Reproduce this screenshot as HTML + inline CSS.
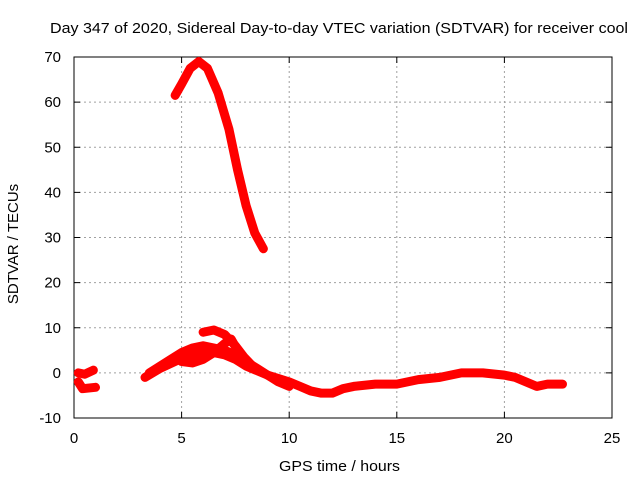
<!DOCTYPE html>
<html><head><meta charset="utf-8"><style>
body{margin:0;background:#fff;font-family:"Liberation Sans",sans-serif}
svg text{font-family:"Liberation Sans",sans-serif;font-size:14px;fill:#000}
</style></head><body>
<svg id="chart" width="640" height="480">
<text x="50" y="33" textLength="578" lengthAdjust="spacingAndGlyphs" style="font-size:15px">Day 347 of 2020, Sidereal Day-to-day VTEC variation (SDTVAR) for receiver cool</text>
<text x="279" y="471" textLength="121" lengthAdjust="spacingAndGlyphs" style="font-size:15px">GPS time / hours</text>
<text x="18" y="244" text-anchor="middle" transform="rotate(-90 18 244)" style="font-size:15px">SDTVAR / TECUs</text>
<g id="grid"></g><g id="axes"></g><g id="series"></g>
</svg>
<script>
const xTicks=[0,5,10,15,20,25];
const yTicks=[-10,0,10,20,30,40,50,60,70];
const seriesPeak=[[4.7,61.5],[5.0,64],[5.4,67.5],[5.8,69],[6.2,67.5],[6.7,62],[7.2,54],[7.6,45],[8.0,37],[8.4,31],[8.8,27.5]];
const seriesEarlyA=[[0.2,0],[0.5,-0.3],[0.9,0.6]];
const seriesEarlyB=[[0.2,-2],[0.4,-3.5],[1.0,-3.2]];
const seriesMain=[[3.3,-1],[4,1],[5,3.2],[5.5,3.6],[6,4.3],[6.5,4.5],[7,4],[7.5,3],[8,1.5],[8.5,0.5],[9,-0.5],[10,-2],[10.5,-3],[11,-4],[11.5,-4.5],[12,-4.5],[12.5,-3.5],[13,-3],[14,-2.5],[15,-2.5],[16,-1.5],[17,-1],[18,0],[19,0],[20,-0.5],[20.5,-1],[21,-2],[21.5,-3],[22,-2.5],[22.7,-2.5]];
const seriesArc=[[3.5,0],[4.5,3],[5,4.5],[5.5,5.5],[6,6],[6.5,5.5],[7,5],[7.5,4],[8,2.5],[8.5,1],[9,-0.5],[9.5,-2],[10,-3]];
const seriesHigh=[[6,9],[6.5,9.5],[7,8.5],[7.5,6],[7.9,3.5],[8.3,1.5]];
const seriesLoop=[[5,2.5],[5.5,2.2],[6,3],[6.5,4.5],[7,6.5],[7.3,7.5],[7.6,5],[8,2]];
const allSeries=[seriesPeak,seriesEarlyA,seriesEarlyB,seriesMain,seriesArc,seriesHigh,seriesLoop];
const X0=74,X1=612,Y0=418,Y1=57;
const sx=h=>X0+(h-0)/(25-0)*(X1-X0);
const sy=v=>Y0-(v+10)/80*(Y0-Y1);
const NS="http://www.w3.org/2000/svg";
function mk(t,a,p){const e=document.createElementNS(NS,t);for(const k in a)e.setAttribute(k,a[k]);p.appendChild(e);return e;}
const grid=document.getElementById('grid'),axes=document.getElementById('axes'),ser=document.getElementById('series');
xTicks.forEach(t=>{
 if(t>0&&t<25){const l=mk('line',{x1:sx(t),x2:sx(t),y1:Y0,y2:Y1,stroke:'#a0a0a0','stroke-dasharray':'2,3'},grid);
 
 }
 const tx=mk('text',{x:sx(t),y:Y0+25,'text-anchor':'middle',style:'font-size:15px'},axes);tx.textContent=t;
 
 
 mk('line',{x1:sx(t),x2:sx(t),y1:Y0,y2:Y0-6,stroke:'#000'},axes);
 mk('line',{x1:sx(t),x2:sx(t),y1:Y1,y2:Y1+6,stroke:'#000'},axes);
});
yTicks.forEach(t=>{
 if(t>-10&&t<70){const l=mk('line',{x1:X0,x2:X1,y1:sy(t),y2:sy(t),stroke:'#a0a0a0','stroke-dasharray':'2,3'},grid);
 
 }
 const tx=mk('text',{x:X0-13,y:sy(t)+5,'text-anchor':'end',style:'font-size:15px'},axes);tx.textContent=t;
 
 
 mk('line',{x1:X0,x2:X0+6,y1:sy(t),y2:sy(t),stroke:'#000'},axes);
 mk('line',{x1:X1,x2:X1-6,y1:sy(t),y2:sy(t),stroke:'#000'},axes);
});
const fr=mk('rect',{x:X0,y:Y1,width:X1-X0,height:Y0-Y1,fill:'none',stroke:'#000'},axes);


allSeries.forEach((s,i)=>{
 const p=mk('polyline',{points:s.map(d=>sx(d[0])+','+sy(d[1])).join(' '),fill:'none',stroke:'#f00','stroke-width':9,'stroke-linejoin':'round','stroke-linecap':'round'},ser);
 
 
});
</script>
</body></html>
